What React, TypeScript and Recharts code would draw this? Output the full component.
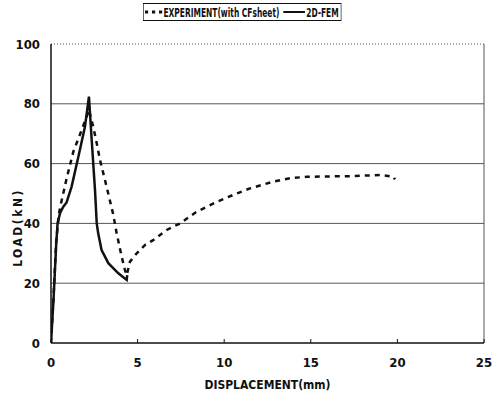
import * as React from 'react';
import {
  CartesianGrid,
  Line,
  LineChart,
  ReferenceLine,
  XAxis,
  YAxis,
} from 'recharts';

// Values (displacement mm, load kN).
const femDisp = [0, 0.15, 0.3, 0.38, 0.52, 0.71, 0.9, 1.19, 1.58, 1.96, 2.19, 2.35, 2.54, 2.64, 2.73, 2.92, 3.31, 3.89, 4.37, 4.4];
const femLoad = [0, 15, 33, 40, 43.4, 45.6, 47, 52.3, 62.3, 72.3, 82.4, 67.9, 51.2, 40, 36.5, 31.1, 26.7, 23.3, 21.1, 22.7];

const expDisp = [0, 0.15, 0.3, 0.45, 0.58, 0.9, 1.29, 1.77, 2.06, 2.19, 2.44, 2.64, 2.83, 3.21, 3.6, 3.79, 4.08, 4.27, 4.37, 4.56, 4.95, 5.43, 5.9, 6.68, 7.45, 8.41, 9.57, 10.72, 11.49, 12.84, 13.8, 14.76, 17.3, 19, 19.77, 19.86];
const expLoad = [0, 16, 34, 43, 46.7, 55, 64, 71.2, 75.7, 78, 72.3, 66.8, 61.2, 52.3, 42.8, 36.7, 28.9, 24.4, 22.7, 27.2, 30, 32.8, 34.4, 37.8, 40, 43.9, 47.2, 50, 51.7, 54, 55.1, 55.6, 55.8, 56.2, 55.6, 54.7];

const xTicks = [0, 5, 10, 15, 20, 25];
const yTicks = [0, 20, 40, 60, 80, 100];
const gridLoads = [20, 40, 60, 80];

const FONT = '"DejaVu Sans Condensed", "DejaVu Sans", sans-serif';
const INK = '#111';
const GRID = '#555';

const femData = femDisp.map((d, i) => ({ disp: d, load: femLoad[i] }));
const expData = expDisp.map((d, i) => ({ disp: d, load: expLoad[i] }));

// Legend sits above the plot in its own box; kept outside recharts so it
// does not steal height from the plot area. The scan uses a very narrow
// face, so the box is squeezed horizontally.
function LegendBox() {
  return (
    <div
      style={{
        position: 'absolute',
        left: 143,
        top: 3,
        display: 'inline-flex',
        alignItems: 'center',
        border: `1px solid ${INK}`,
        height: 16,
        padding: '0 3px 0 2px',
        fontFamily: FONT,
        fontWeight: 'bold',
        fontSize: 13,
        color: INK,
        whiteSpace: 'nowrap',
        transform: 'scaleX(0.64)',
        transformOrigin: 'left center',
      }}
    >
      <svg width={28} height={10}>
        <line x1={0} y1={5} x2={28} y2={5} stroke={INK} strokeWidth={3} strokeDasharray="5 6" />
      </svg>
      <span style={{ marginLeft: 1 }}>EXPERIMENT(with CFsheet)</span>
      <svg width={36} height={10} style={{ marginLeft: 6 }}>
        <line x1={0} y1={5} x2={34} y2={5} stroke={INK} strokeWidth={2} />
      </svg>
      <span>2D-FEM</span>
    </div>
  );
}

function YTitle({ viewBox }: any) {
  const cx = 18;
  const cy = viewBox.y + viewBox.height / 2 + 34;
  return (
    <text
      x={cx}
      y={cy}
      transform={`rotate(-90 ${cx} ${cy})`}
      textAnchor="middle"
      dominantBaseline="central"
      fontFamily={FONT}
      fontWeight="bold"
      fontSize={12}
      letterSpacing={2.5}
      fill={INK}
    >
      LOAD(kN)
    </text>
  );
}

export default function App() {
  return (
    <div style={{ position: 'absolute', left: 0, top: 0, width: 496, height: 393, background: '#fff' }}>
      <LegendBox />
      <LineChart width={496} height={393} margin={{ top: 44, right: 12, bottom: 0, left: 11 }}>
        <CartesianGrid horizontal vertical={false} horizontalValues={gridLoads} stroke={GRID} strokeWidth={1} />
        <ReferenceLine y={100} stroke={GRID} strokeDasharray="1 2" />
        <ReferenceLine x={25} stroke={GRID} strokeWidth={1} />
        <XAxis
          type="number"
          dataKey="disp"
          domain={[0, 25]}
          ticks={xTicks}
          allowDataOverflow
          height={50}
          axisLine={{ stroke: INK, strokeWidth: 1.5 }}
          tickLine={{ stroke: INK }}
          tickSize={-4}
          tickMargin={19}
          tick={{ fontFamily: FONT, fontWeight: 'bold', fontSize: 13, fill: INK }}
          label={{
            value: 'DISPLACEMENT(mm)',
            position: 'insideBottom',
            offset: 4,
            fontFamily: FONT,
            fontWeight: 'bold',
            fontSize: 12,
            fill: INK,
          }}
        />
        <YAxis
          type="number"
          domain={[0, 100]}
          ticks={yTicks}
          width={40}
          axisLine={{ stroke: INK, strokeWidth: 1.5 }}
          tickLine={false}
          tickSize={0}
          tickMargin={11}
          tick={{ fontFamily: FONT, fontWeight: 'bold', fontSize: 13, fill: INK }}
          label={<YTitle />}
        />
        <Line
          data={expData}
          dataKey="load"
          type="linear"
          stroke={INK}
          strokeWidth={2.5}
          strokeDasharray="5 5"
          dot={false}
          isAnimationActive={false}
        />
        <Line
          data={femData}
          dataKey="load"
          type="linear"
          stroke={INK}
          strokeWidth={2.5}
          dot={false}
          isAnimationActive={false}
        />
      </LineChart>
    </div>
  );
}
